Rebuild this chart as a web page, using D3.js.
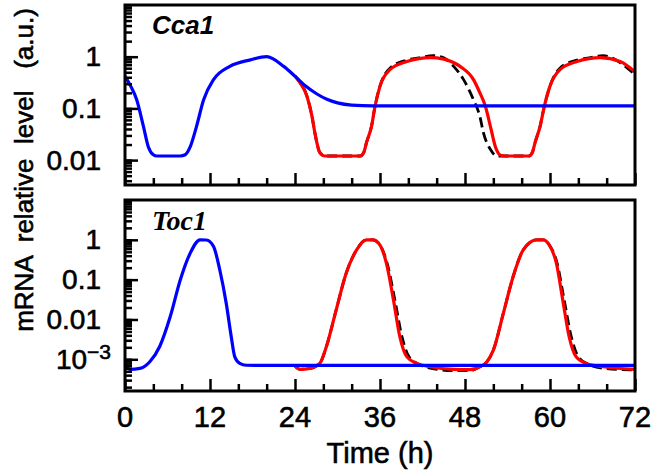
<!DOCTYPE html>
<html>
<head>
<meta charset="utf-8">
<script src="https://cdn.jsdelivr.net/npm/d3@7"></script>
<style>
  body { margin: 0; background: #fff; }
  text { font-family: "Liberation Sans", Arial, sans-serif; fill: #000; }
  .lbl { stroke: #000; stroke-width: 0.6px; }
</style>
</head>
<body>
<script>
// time axis
var xTicks = [0, 4, 8, 12, 16, 20, 24, 28, 32, 36, 40, 44, 48, 52, 56, 60, 64, 68, 72];
var xTickLabels = [0, 12, 24, 36, 48, 60, 72];

// Cca1 panel
var cca1BlueT = [0, 0.8, 1.65, 2.6, 3.3, 4, 4.5, 7.8, 8.5, 9.2, 10.1, 11.1, 12.5, 14.8, 17.7, 20, 22.4, 24, 25.5, 27.1, 28.5, 30, 32, 35, 72];
var cca1BlueV = [0.42, 0.27, 0.147, 0.045, 0.018, 0.0127, 0.012, 0.012, 0.0127, 0.018, 0.045, 0.147, 0.36, 0.65, 0.87, 1.0, 0.65, 0.42, 0.27, 0.19, 0.15, 0.128, 0.116, 0.112, 0.112];
var cca1RedT = [24, 24.6, 25.7, 26.4, 26.8, 27.5, 28.2, 33.2, 33.7, 34.1, 34.8, 35.3, 36.0, 37.4, 39.8, 41.5, 43.1, 45, 47.3, 49.2, 50.1, 50.9, 51.6, 52.3, 53, 53.6, 57, 57.5, 57.9, 58.6, 59.2, 60.0, 61.4, 63.8, 65.5, 67.1, 69.9, 72];
var cca1RedV = [0.42, 0.33, 0.17, 0.07, 0.034, 0.014, 0.012, 0.012, 0.014, 0.022, 0.045, 0.11, 0.27, 0.56, 0.81, 0.92, 0.96, 0.9, 0.65, 0.36, 0.2, 0.108, 0.044, 0.018, 0.0125, 0.012, 0.012, 0.014, 0.022, 0.045, 0.11, 0.27, 0.56, 0.81, 0.92, 0.96, 0.81, 0.51];
var cca1DashT = [24, 24.6, 25.7, 26.4, 26.8, 27.5, 28.2, 33.2, 33.7, 34.1, 34.8, 35.3, 36.0, 37.4, 39.8, 41.5, 43.5, 45, 46.4, 47.8, 49.2, 50.1, 50.6, 51.6, 52.5, 53.2, 57, 57.5, 57.9, 58.6, 59.2, 60.0, 61.4, 63.8, 65.5, 67.5, 70, 72];
var cca1DashV = [0.42, 0.33, 0.17, 0.07, 0.034, 0.014, 0.012, 0.012, 0.014, 0.022, 0.045, 0.11, 0.27, 0.6, 0.86, 0.95, 1.05, 0.95, 0.65, 0.36, 0.147, 0.07, 0.034, 0.016, 0.012, 0.012, 0.012, 0.014, 0.022, 0.045, 0.11, 0.27, 0.6, 0.86, 0.95, 1.05, 0.75, 0.45];

// Toc1 panel
var toc1BlueT = [0, 0.7, 2.1, 3.5, 4.9, 6.4, 7.8, 9.2, 10.6, 11.5, 12.5, 13.4, 14.3, 15.0, 15.5, 16.2, 17.1, 20, 72];
var toc1BlueV = [7.1e-4, 5.6e-4, 5.9e-4, 8.7e-4, 2.1e-3, 0.012, 0.098, 0.46, 1.0, 0.99, 0.68, 0.17, 0.025, 3.7e-3, 1.15e-3, 7.9e-4, 7.1e-4, 7.0e-4, 7.0e-4];
var toc1RedT = [24, 24.7, 26.1, 27.5, 28.4, 29.8, 31.2, 32.7, 34.1, 35.0, 36.0, 36.9, 37.9, 38.8, 39.8, 41.2, 43.1, 46.4, 48.7, 50.1, 51.1, 52.0, 53.4, 54.8, 56.2, 58.1, 59.0, 59.9, 60.9, 61.8, 62.7, 63.7, 65.1, 67.5, 72];
var toc1RedV = [6.8e-4, 5.6e-4, 5.9e-4, 7.9e-4, 2.0e-3, 0.017, 0.14, 0.56, 1.0, 1.0, 0.74, 0.26, 0.031, 3.7e-3, 1.15e-3, 7.9e-4, 6.5e-4, 5.6e-4, 5.5e-4, 6.5e-4, 8.7e-4, 1.7e-3, 0.014, 0.12, 0.55, 1.0, 1.0, 0.74, 0.26, 0.031, 3.7e-3, 1.15e-3, 7.9e-4, 6.5e-4, 5.6e-4];
var toc1DashT = [24, 24.7, 26.1, 27.5, 28.4, 29.8, 31.2, 32.7, 34.1, 35.0, 36.0, 37.0, 38.1, 39.1, 40.1, 41.5, 43.1, 46.4, 48.7, 50.1, 51.1, 52.0, 53.4, 54.8, 56.2, 58.1, 59.0, 59.9, 61.0, 62.0, 63.0, 64.0, 65.4, 67.5, 72];
var toc1DashV = [6.8e-4, 5.6e-4, 5.9e-4, 7.9e-4, 2.0e-3, 0.017, 0.14, 0.56, 1.0, 1.0, 0.74, 0.26, 0.031, 3.7e-3, 1.15e-3, 7.5e-4, 6.0e-4, 5.2e-4, 5.2e-4, 6.5e-4, 8.7e-4, 1.7e-3, 0.014, 0.12, 0.55, 1.0, 1.0, 0.74, 0.26, 0.031, 3.7e-3, 1.15e-3, 7.5e-4, 6.0e-4, 5.4e-4];

var width = 654, height = 471;
var left = 125, right = 635;

var svg = d3.select("body").append("svg")
    .attr("width", width)
    .attr("height", height);

var x = d3.scaleLinear().domain([0, 72]).range([left, right]);

function pairs(ts, vs) {
  return ts.map(function(t, i) { return [t, vs[i]]; });
}

function drawPanel(p) {
  var y = d3.scaleLog().domain(p.domain).range([p.bottom, p.top]);

  var clipId = "clip" + p.name;
  svg.append("clipPath").attr("id", clipId)
    .append("rect")
    .attr("x", left).attr("y", p.top)
    .attr("width", right - left).attr("height", p.bottom - p.top);

  var line = d3.line()
      .x(function(d) { return x(d[0]); })
      .y(function(d) { return y(d[1]); })
      .curve(d3.curveMonotoneX);

  var g = svg.append("g").attr("clip-path", "url(#" + clipId + ")");

  g.append("path")
    .attr("d", line(pairs(p.dashT, p.dashV)))
    .attr("fill", "none")
    .attr("stroke", "#000")
    .attr("stroke-width", 2.8)
    .attr("stroke-dasharray", "10,5");

  g.append("path")
    .attr("d", line(pairs(p.redT, p.redV)))
    .attr("fill", "none")
    .attr("stroke", "#f00")
    .attr("stroke-width", 3.2);

  g.append("path")
    .attr("d", line(pairs(p.blueT, p.blueV)))
    .attr("fill", "none")
    .attr("stroke", "#00f")
    .attr("stroke-width", 3.2);

  // log ticks on the left, drawn inward
  var all = y.ticks();

  svg.append("g")
    .attr("transform", "translate(" + left + ",0)")
    .call(d3.axisLeft(y).tickValues(all).tickSize(-7).tickFormat(""))
    .call(function(a) { a.select(".domain").remove(); a.selectAll("line").attr("stroke-width", 2.5); });

  var yAx = svg.append("g")
    .attr("transform", "translate(" + left + ",0)")
    .call(d3.axisLeft(y).tickValues(p.labels).tickSize(-13).tickPadding(24).tickFormat(function(v) {
      return v >= 0.01 ? String(v) : "";
    }));
  yAx.select(".domain").remove();
  yAx.selectAll("line").attr("stroke-width", 2.5);
  yAx.selectAll("text").attr("class", "lbl").style("font-size", "28px").style("font-family", "Liberation Sans, Arial, sans-serif");
  yAx.selectAll(".tick").filter(function(v) { return v < 0.01; })
    .select("text")
    .attr("x", -14)
    .each(function() {
      var t = d3.select(this);
      t.append("tspan").text("10");
      t.append("tspan").text("\u22123").attr("dy", "-0.45em").style("font-size", "21px");
    });

  // time ticks along the bottom, inward
  var xAx = svg.append("g")
    .attr("transform", "translate(0," + p.bottom + ")")
    .call(d3.axisBottom(x).tickValues(xTicks).tickSize(-7).tickFormat(""));
  xAx.select(".domain").remove();
  xAx.selectAll(".tick line")
    .attr("y2", function(d) { return d % 12 === 0 ? -12 : -7; })
    .attr("stroke-width", 2.5);

  svg.append("rect")
    .attr("x", left).attr("y", p.top)
    .attr("width", right - left).attr("height", p.bottom - p.top)
    .attr("fill", "none")
    .attr("stroke", "#000")
    .attr("stroke-width", 3);

  svg.append("text")
    .attr("x", 152).attr("y", p.titleY)
    .style("font-family", p.titleFont)
    .style("font-weight", "bold")
    .style("font-style", "italic")
    .style("font-size", p.titleSize)
    .text(p.name);

  return y;
}

drawPanel({
  name: "Cca1", top: 5, bottom: 185, domain: [3.3e-3, 10], labels: [0.01, 0.1, 1],
  blueT: cca1BlueT, blueV: cca1BlueV, redT: cca1RedT, redV: cca1RedV, dashT: cca1DashT, dashV: cca1DashV,
  titleY: 34, titleFont: "Liberation Sans, Arial, sans-serif", titleSize: "26px"
});

drawPanel({
  name: "Toc1", top: 200, bottom: 391, domain: [1.6e-4, 10], labels: [0.001, 0.01, 0.1, 1],
  blueT: toc1BlueT, blueV: toc1BlueV, redT: toc1RedT, redV: toc1RedV, dashT: toc1DashT, dashV: toc1DashV,
  titleY: 230, titleFont: "Liberation Serif, Times New Roman, serif", titleSize: "28px"
});

// tick labels under the lower panel
svg.append("g").selectAll("text")
  .data(xTickLabels)
  .enter().append("text")
  .attr("class", "lbl")
  .attr("x", function(d) { return x(d); })
  .attr("y", 427)
  .attr("text-anchor", "middle")
  .style("font-size", "29px")
  .text(function(d) { return d; });

svg.append("text")
  .attr("class", "lbl")
  .attr("x", x(36)).attr("y", 463)
  .attr("text-anchor", "middle")
  .style("font-size", "29px")
  .text("Time (h)");

svg.append("text")
  .attr("class", "lbl")
  .attr("transform", "translate(33,170) rotate(-90)")
  .attr("text-anchor", "middle")
  .style("font-size", "26px")
  .style("white-space", "pre")
  .text("mRNA  relative  level   (a.u.)");
</script>
</body>
</html>
